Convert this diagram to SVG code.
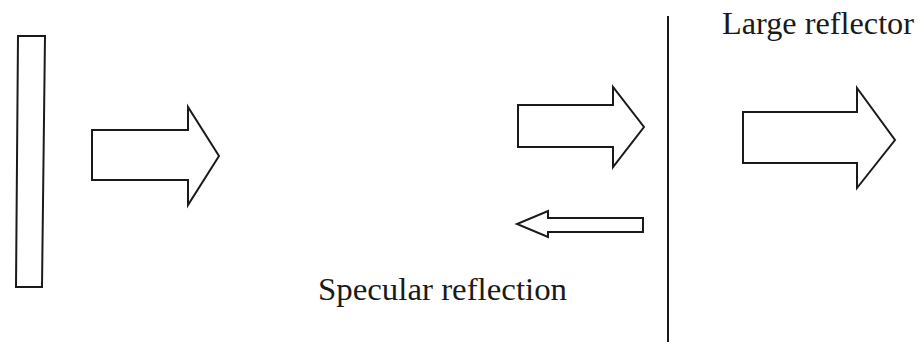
<svg xmlns="http://www.w3.org/2000/svg" width="924" height="347" viewBox="0 0 924 347">
  <style>
    .shape { fill: #ffffff; stroke: #1a1a1a; stroke-width: 2; stroke-linejoin: miter; }
    .wall { stroke: #1a1a1a; stroke-width: 2; fill: none; }
    .label { font-family: "Liberation Serif", "Times New Roman", serif; font-size: 31px; fill: #1a1a1a; }
  </style>
  <rect width="924" height="347" fill="#ffffff"/>

  <!-- Source panel -->
  <g id="source">
    <polygon class="shape" points="18,36 45,36 42,287 16,287"/>
  </g>

  <!-- Incident wave -->
  <g id="incident-wave">
    <polygon class="shape" points="92,130 188,130 188,107 219,156 188,205 188,180 92,180"/>
  </g>

  <!-- Wave arriving at the reflector -->
  <g id="arriving-wave">
    <polygon class="shape" points="518,105 613,105 613,87 644,127 613,167 613,147 518,147"/>
  </g>

  <!-- Reflected wave -->
  <g id="reflected-wave">
    <polygon class="shape" points="643,218 548,218 548,211 517,224 548,237 548,232 643,232"/>
  </g>

  <!-- Large reflector -->
  <g id="reflector">
    <line class="wall" x1="668" y1="16" x2="668" y2="342"/>
  </g>

  <!-- Transmitted wave -->
  <g id="transmitted-wave">
    <polygon class="shape" points="743,112 857,112 857,88 895,140 857,188 857,163 743,163"/>
  </g>

  <g id="labels">
    <text class="label" x="722" y="34" textLength="192" lengthAdjust="spacingAndGlyphs">Large reflector</text>
    <text class="label" x="318" y="300" textLength="249" lengthAdjust="spacingAndGlyphs">Specular reflection</text>
  </g>
</svg>
